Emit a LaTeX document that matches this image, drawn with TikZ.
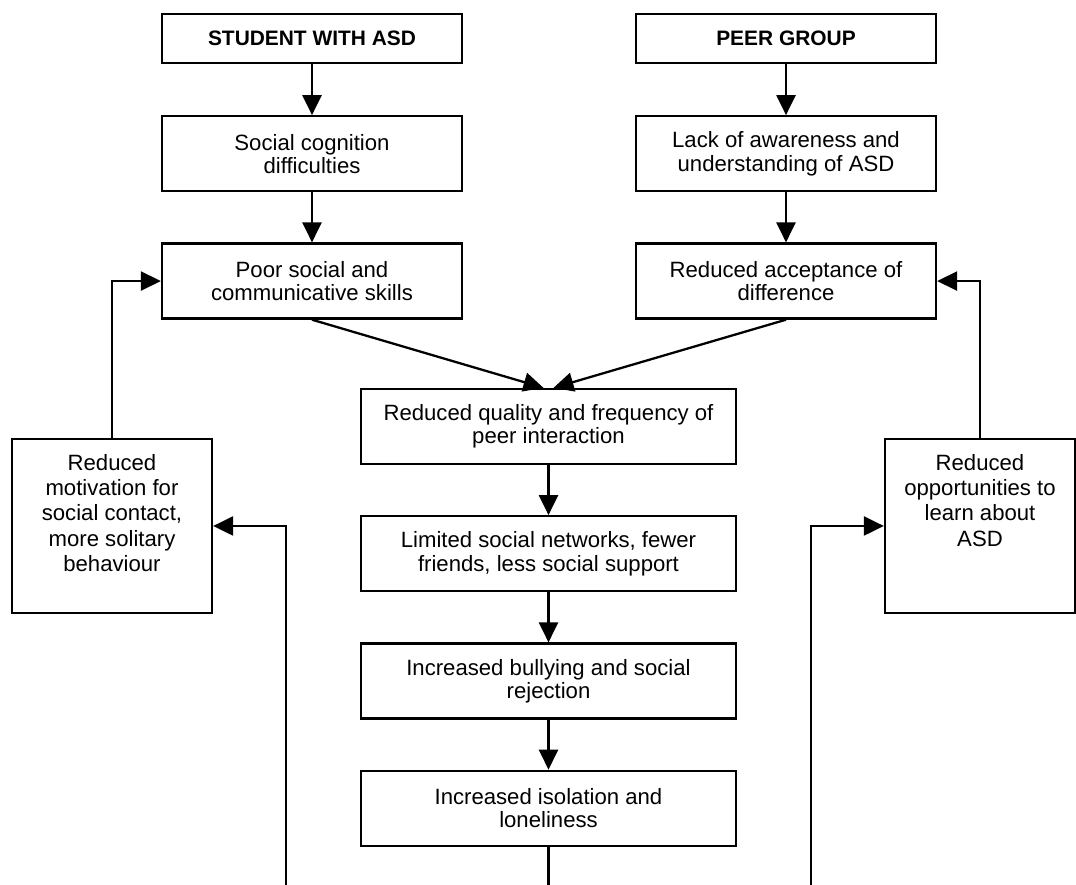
\documentclass[tikz,border=0pt]{standalone}
\usepackage{fontspec}
\setmainfont{Liberation Sans}
\usepackage{tikz}
\usetikzlibrary{positioning, arrows.meta}

\tikzset{
  box/.style={draw, line width=1.3pt, minimum width=6cm, minimum height=1.5cm,
    align=center, inner sep=2pt, font=\fontsize{12.6}{13.1}\selectfont},
  headbox/.style={box, minimum height=0.98cm, font=\fontsize{11.9}{13.1}\selectfont\bfseries},
  midbox/.style={box, minimum width=7.5cm},
  sidebox/.style={draw, line width=1.3pt, inner sep=0pt, font=\fontsize{12.6}{14.5}\selectfont},
  flow/.style={-{Triangle[length=0.4cm,width=0.38cm]}, line width=1.3pt},
  link/.style={line width=1.3pt}
}

\begin{document}
\begin{tikzpicture}
    \useasboundingbox (0,0) rectangle (21.52,17.7);

    % left column
    \node[headbox] (student) at (6.24,16.93) {STUDENT WITH ASD};
    \node[box] (social) [below=1.02cm of student] {Social cognition\\ difficulties};
    \node[box] (poor) [below=1cm of social] {Poor social and\\ communicative skills};

    % right column
    \node[headbox] (peer) at (15.72,16.93) {PEER GROUP};
    \node[box] (lack) [below=1.02cm of peer] {Lack of awareness and\\ understanding of ASD};
    \node[box] (accept) [below=1cm of lack] {Reduced acceptance of\\ difference};

    % middle column
    \node[midbox] (quality) at (10.97,9.17) {Reduced quality and frequency of\\ peer interaction};
    \node[midbox] (limited) [below=1cm of quality] {Limited social networks, fewer\\ friends, less social support};
    \node[midbox] (bully) [below=1cm of limited] {Increased bullying and social\\ rejection};
    \node[midbox] (isol) [below=1cm of bully] {Increased isolation and\\ loneliness};

    % feedback boxes
    \node[sidebox] (motiv) at (2.24,7.18) {\parbox[c][3.48cm][t]{4cm}{\centering\vspace*{0.3cm}Reduced\\ motivation for\\ social contact,\\ more solitary\\ behaviour}};
    \node[sidebox] (oppo) at (19.6,7.18) {\parbox[c][3.48cm][t]{3.8cm}{\centering\vspace*{0.3cm}Reduced\\ opportunities to\\ learn about\\ ASD}};

    \coordinate (lbot) at (5.72,0);
    \coordinate (mbot) at (10.97,0);
    \coordinate (rbot) at (16.22,0);

    \draw[flow] (student) -- (social);
    \draw[flow] (social) -- (poor);
    \draw[flow] (peer) -- (lack);
    \draw[flow] (lack) -- (accept);
    \draw[flow] (poor.south) -- ([xshift=-0.1cm]quality.north);
    \draw[flow] (accept.south) -- ([xshift=0.1cm]quality.north);
    \draw[flow] (quality) -- (limited);
    \draw[flow] (limited) -- (bully);
    \draw[flow] (bully) -- (isol);
    \draw[link] (isol) -- (mbot);

    \draw[flow] (motiv.north) |- (poor.west);
    \draw[flow] (lbot) |- (motiv.east);
    \draw[flow] (oppo.north) |- (accept.east);
    \draw[flow] (rbot) |- (oppo.west);
\end{tikzpicture}
\end{document}
